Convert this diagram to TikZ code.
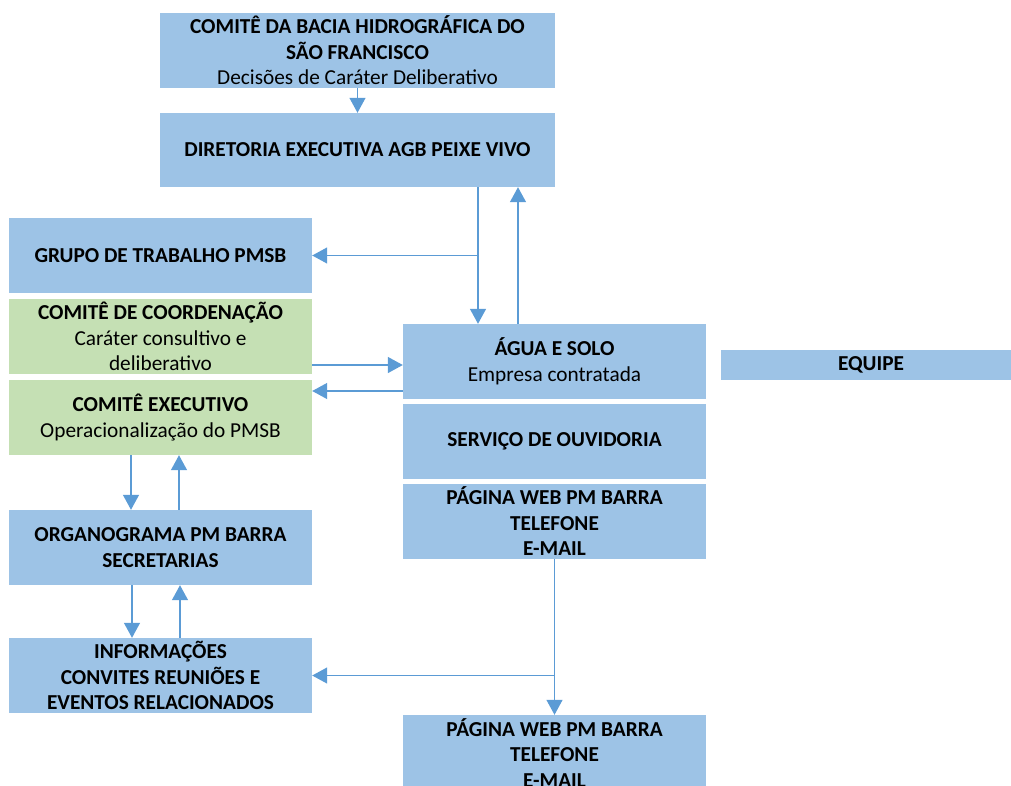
\documentclass[tikz,border=0pt]{standalone}
\usepackage{fontspec}
\setmainfont{Carlito}
\usetikzlibrary{arrows.meta}
\definecolor{boxblue}{HTML}{9DC3E6}
\definecolor{boxgreen}{HTML}{C5E0B4}
\definecolor{arrblue}{HTML}{5B9BD5}
\begin{document}
\begin{tikzpicture}[x=1pt,y=-1pt,
  box/.style={rectangle, fill=boxblue, draw=none, inner sep=0pt, align=center,
    font=\fontsize{21.3}{25.5}\selectfont, text=black},
  gbox/.style={box, fill=boxgreen},
  arr/.style={draw=arrblue, line width=1.3pt, -{Triangle[width=16pt,length=15pt]}},
  ln/.style={draw=arrblue, line width=1.3pt}]
\useasboundingbox (0,0) rectangle (1011,785);

\node[box, minimum width=395pt, minimum height=75pt] (comite) at (357.5,50.5)
  {\textbf{COMITÊ DA BACIA HIDROGRÁFICA DO}\\ \textbf{SÃO FRANCISCO}\\ Decisões de Caráter Deliberativo};
\node[box, minimum width=395pt, minimum height=74pt] (diretoria) at (357.5,150)
  {\textbf{DIRETORIA EXECUTIVA AGB PEIXE VIVO}};
\node[box, minimum width=303pt, minimum height=75pt] (grupo) at (160.5,255.5)
  {\textbf{GRUPO DE TRABALHO PMSB}};
\node[gbox, minimum width=303pt, minimum height=75pt] (coord) at (160.5,336.5)
  {\textbf{COMITÊ DE COORDENAÇÃO}\\ Caráter consultivo e\\ deliberativo};
\node[gbox, minimum width=303pt, minimum height=75pt] (exec) at (160.5,417.5)
  {\textbf{COMITÊ EXECUTIVO}\\ Operacionalização do PMSB};
\node[box, minimum width=303pt, minimum height=75pt] (org) at (160.5,547.5)
  {\textbf{ORGANOGRAMA PM BARRA}\\ \textbf{SECRETARIAS}};
\node[box, minimum width=303pt, minimum height=75pt] (info) at (160.5,675.5)
  {\textbf{INFORMAÇÕES}\\ \textbf{CONVITES REUNIÕES E}\\ \textbf{EVENTOS RELACIONADOS}};
\node[box, minimum width=303pt, minimum height=75pt] (agua) at (554.5,361.5)
  {\textbf{ÁGUA E SOLO}\\ Empresa contratada};
\node[box, minimum width=300pt, minimum height=30pt] (equipe) at (871,365)
  {\textbf{EQUIPE}};
\node[box, minimum width=303pt, minimum height=75pt] (ouv) at (554.5,441)
  {\textbf{SERVIÇO DE OUVIDORIA}};
\node[box, minimum width=303pt, minimum height=75pt] (web1) at (554.5,521.5)
  {\textbf{PÁGINA WEB PM BARRA}\\ \textbf{TELEFONE}\\ \textbf{E-MAIL}};
\node[box, minimum width=303pt, minimum height=76pt] (web2) at (554.5,753)
  {\textbf{PÁGINA WEB PM BARRA}\\ \textbf{TELEFONE}\\ \textbf{E-MAIL}};

% connectors
\draw[arr] (comite.south) -- (diretoria.north);
\coordinate (d1) at ([xshift=120.5pt]diretoria.south);
\coordinate (d2) at ([xshift=160.5pt]diretoria.south);
\draw[arr] (d1) -- (d1 |- agua.north);
\draw[arr] (d1 |- grupo.east) -- (grupo.east);
\draw[arr] (d2 |- agua.north) -- (d2);
\coordinate (c1) at ([yshift=-28.5pt]coord.east);
\draw[arr] (c1) -- (c1 -| agua.west);
\coordinate (a1) at ([yshift=-29.5pt]agua.west);
\draw[arr] (a1) -- (a1 -| exec.east);
\coordinate (e1) at ([xshift=-29.5pt]exec.south);
\coordinate (e2) at ([xshift=18.5pt]exec.south);
\draw[arr] (e1) -- (e1 |- org.north);
\draw[arr] (e2 |- org.north) -- (e2);
\coordinate (o1) at ([xshift=-28.5pt]org.south);
\coordinate (o2) at ([xshift=19.5pt]org.south);
\draw[arr] (o1) -- (o1 |- info.north);
\draw[arr] (o2 |- info.north) -- (o2);
\draw[arr] (web1.south) -- (web2.north);
\draw[arr] (web1.south |- info.east) -- (info.east);
\end{tikzpicture}
\end{document}
